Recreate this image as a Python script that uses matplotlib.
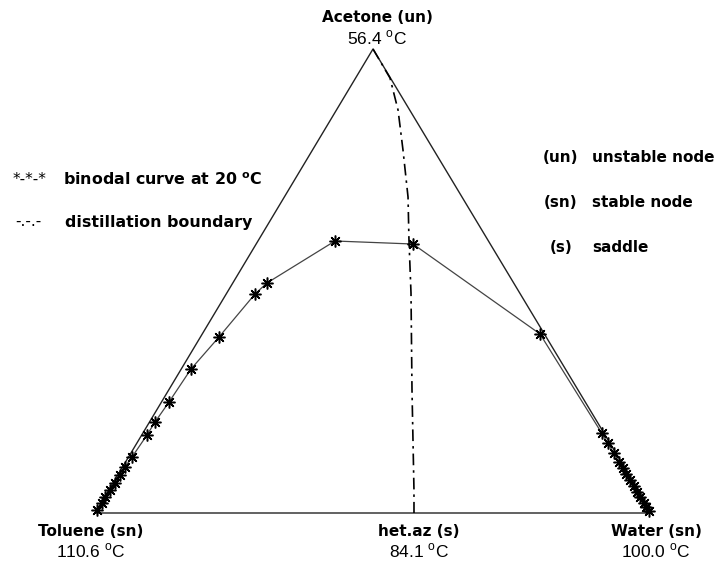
import matplotlib
matplotlib.use("Agg")
from matplotlib import pyplot as plt

# binodal curve at 20 C, mole fractions (acetone, water)
bin_acetone = [0.0065, 0.0216, 0.0345, 0.0496, 0.0647, 0.0819, 0.0991, 0.1207,
               0.1681, 0.1961, 0.2392, 0.3103, 0.3793, 0.4720, 0.4957, 0.5862,
               0.5797, 0.3858,
               0.172, 0.150, 0.129, 0.110, 0.097, 0.084, 0.071, 0.058, 0.045,
               0.034, 0.022, 0.012, 0.004]
bin_water = [0.001, 0.001, 0.001, 0.002, 0.0036, 0.004, 0.0044, 0.0062,
             0.0095, 0.0099, 0.0135, 0.0175, 0.0333, 0.0517, 0.0614, 0.1383,
             0.2816, 0.6064,
             0.824, 0.846, 0.867, 0.886, 0.899, 0.912, 0.925, 0.938, 0.951,
             0.962, 0.974, 0.984, 0.993]

# distillation boundary from acetone to the heterogeneous azeotrope
db_acetone = [1.0, 0.9375, 0.8685, 0.7823, 0.6810, 0.5884, 0.4741, 0.2651, 0.0496, 0.0]
db_water = [0.0, 0.0617, 0.1106, 0.1625, 0.2221, 0.2700, 0.3307, 0.4368, 0.5479, 0.5727]

vertex_names = ["Acetone (un)", "Toluene (sn)", "het.az (s)", "Water (sn)"]
vertex_temps = ["56.4", "110.6", "84.1", "100.0"]
node_keys = ["(un)", "(sn)", "(s)"]
node_desc = ["unstable node", "stable node", "saddle"]

# triangle corners in figure pixels (toluene, acetone, water)
T = (95.0, 513.0)
A = (373.0, 49.0)
W = (652.0, 513.0)


def to_xy(a, w):
    xs = [T[0] + ai * (A[0] - T[0]) + wi * (W[0] - T[0]) for ai, wi in zip(a, w)]
    ys = [T[1] + ai * (A[1] - T[1]) + wi * (W[1] - T[1]) for ai, wi in zip(a, w)]
    return xs, ys


fig = plt.figure(figsize=(7.17, 5.62), dpi=100)
ax = fig.add_axes([0, 0, 1, 1])
ax.set_xlim(0, 717)
ax.set_ylim(562, 0)
ax.axis("off")

tx, ty = to_xy([0, 1, 0, 0], [0, 0, 1, 0])
ax.plot(tx, ty, "-", color="#222222", lw=1.0)

bx, by = to_xy(bin_acetone, bin_water)
ax.plot(bx, by, "-", color="#444444", lw=0.9)
ax.plot(bx, by, ls="none", marker=(8, 2, 0), ms=8.5, mew=1.1, color="black")
ax.plot(bx, by, ls="none", marker="o", ms=2.5, color="black")

dx, dy = to_xy(db_acetone, db_water)
ax.plot(dx, dy, color="black", lw=1.2, ls=(0, (7, 3, 1.5, 3)))

bold = dict(fontsize=11, fontweight="bold", family="DejaVu Sans")
norm = dict(fontsize=12.5, family="Liberation Sans")


def deg(t):
    return t + r" $^\mathregular{o}$C"


# vertex labels
hx, _ = to_xy([0.0], [db_water[-1]])
label_x = [377, 91, hx[0] + 5, 656]
label_y = [18, 531, 531, 531]
for name, temp, x, y in zip(vertex_names, vertex_temps, label_x, label_y):
    ax.text(x, y, name, ha="center", va="center", **bold)
    ax.text(x, y + 20, deg(temp), ha="center", va="center", **norm)

# legend texts
ax.text(13, 179, "*-*-*", ha="left", va="center", fontsize=11, family="DejaVu Sans")
ax.text(63, 180, r"binodal curve at 20 $^\mathregular{o}$C", ha="left", va="center",
        fontsize=11.4, fontweight="bold", family="DejaVu Sans")
ax.text(15, 222, "-.-.-", ha="left", va="center", fontsize=11, family="DejaVu Sans")
ax.text(65, 222, "distillation boundary", ha="left", va="center",
        fontsize=11.4, fontweight="bold", family="DejaVu Sans")

for i, (k, d) in enumerate(zip(node_keys, node_desc)):
    y = 157 + i * 45.5
    ax.text(561, y, k, ha="center", va="center", **bold)
    ax.text(592, y, d, ha="left", va="center", **bold)

fig.savefig("out.png", dpi=100)
